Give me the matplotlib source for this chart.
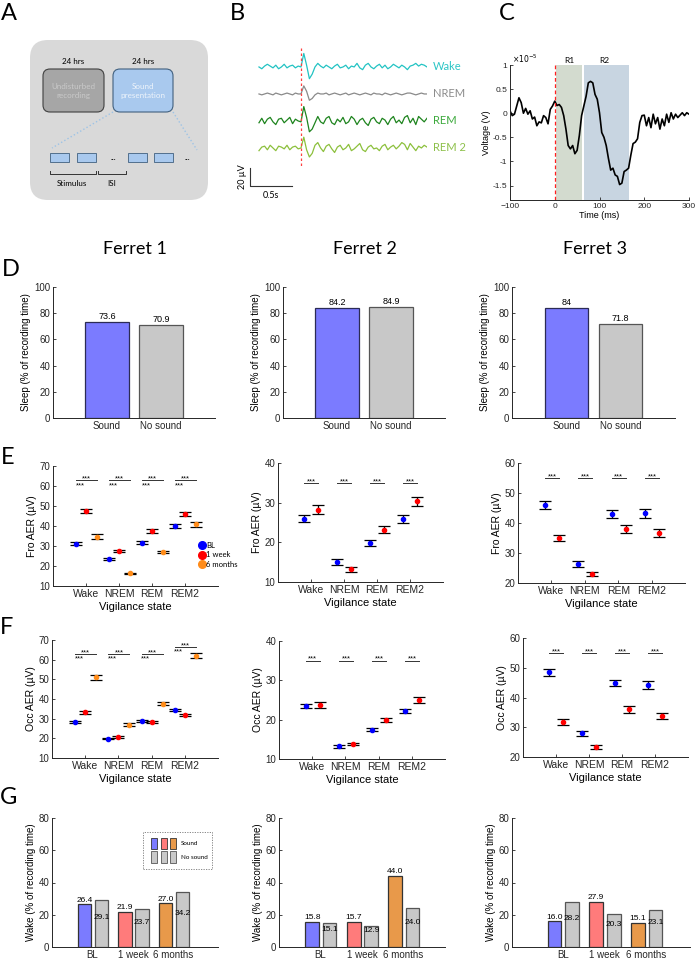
import numpy as np
import matplotlib
matplotlib.use('Agg')
import matplotlib.pyplot as plt
from matplotlib.patches import FancyBboxPatch, Rectangle
from matplotlib.lines import Line2D

plt.rcParams['font.family'] = ['Liberation Sans', 'DejaVu Sans']
CAL = ['Lato', 'DejaVu Sans']

# ------------------------- data -------------------------
states = ['Wake', 'NREM', 'REM', 'REM2']
d_conditions = ['Sound', 'No sound']
d_f1 = [73.6, 70.9]
d_f2 = [84.2, 84.9]
d_f3 = [84, 71.8]

# Frontal AER (uV)
fro_f1_bl = [31.2, 23.5, 31.7, 40.0]; fro_f1_bl_err = [0.8, 0.4, 0.6, 0.8]
fro_f1_1w = [47.5, 27.5, 37.5, 46.0]; fro_f1_1w_err = [1.0, 0.4, 0.8, 1.0]
fro_f1_6m = [34.7, 16.3, 26.8, 40.8]; fro_f1_6m_err = [1.1, 0.3, 0.5, 1.3]
fro_f1_sig_hi = [63, 63, 63, 63]
fro_f1_sig_lo = [61, 61, 61, 61]

fro_f2_bl = [26.0, 15.1, 19.8, 25.8]; fro_f2_bl_err = [1.0, 0.7, 0.8, 1.0]
fro_f2_1w = [28.2, 13.2, 23.2, 30.3]; fro_f2_1w_err = [1.1, 0.6, 0.9, 1.2]
fro_f2_sig = [35, 35, 35, 35]

fro_f3_bl = [46.0, 26.4, 43.1, 43.2]; fro_f3_bl_err = [1.4, 0.9, 1.3, 1.4]
fro_f3_1w = [35.1, 23.0, 38.1, 36.6]; fro_f3_1w_err = [1.0, 0.8, 1.3, 1.4]
fro_f3_sig = [55, 55, 55, 55]

# Occipital AER (uV)
occ_f1_bl = [28.5, 19.8, 29.0, 34.5]; occ_f1_bl_err = [0.5, 0.3, 0.5, 0.5]
occ_f1_1w = [33.2, 20.8, 28.5, 31.8]; occ_f1_1w_err = [0.6, 0.4, 0.5, 0.5]
occ_f1_6m = [51.0, 27.0, 37.5, 62.0]; occ_f1_6m_err = [1.3, 0.6, 0.8, 1.4]
occ_f1_sig_hi = [63, 63, 63, 66.5]
occ_f1_sig_lo = [61, 61, 61, 64.5]

occ_f2_bl = [23.5, 13.2, 17.4, 22.3]; occ_f2_bl_err = [0.6, 0.3, 0.4, 0.5]
occ_f2_1w = [23.7, 13.8, 20.0, 25.0]; occ_f2_1w_err = [0.7, 0.3, 0.5, 0.7]
occ_f2_sig = [35, 35, 35, 35]

occ_f3_bl = [48.5, 28.0, 44.8, 44.3]; occ_f3_bl_err = [1.2, 0.8, 1.1, 1.3]
occ_f3_1w = [31.8, 23.3, 36.0, 33.7]; occ_f3_1w_err = [1.0, 0.6, 1.3, 1.0]
occ_f3_sig = [55, 55, 55, 55]

# Wake % (G)
g_groups = ['BL', '1 week', '6 months']
g_f1_sound = [26.4, 21.9, 27.0]; g_f1_nosound = [29.1, 23.7, 34.2]
g_f2_sound = [15.8, 15.7, 44.0]; g_f2_nosound = [15.1, 12.9, 24.0]
g_f3_sound = [16.0, 27.9, 15.1]; g_f3_nosound = [28.2, 20.3, 23.1]

# Panel C average AER (x1e-5 V), 5 ms steps from -100 to 300 ms
c_time = list(range(-100, 305, 5))
c_volt = [0.05, -0.05, -0.02, 0.15, 0.32, 0.22, 0.0, 0.1, -0.02, 0.05, -0.12, -0.08,
          -0.26, -0.18, -0.2, -0.05, -0.09, -0.22, 0.08, 0.15, 0.25,
          0.16, 0.18, 0.12, -0.05, -0.33, -0.67, -0.74, -0.67, -0.84, -0.77, -0.46,
          -0.05, 0.15, 0.35, 0.63, 0.66, 0.63, 0.39, 0.29, 0.01,
          -0.4, -0.5, -0.67, -0.94, -1.18, -1.14, -1.28, -1.31, -1.48, -1.45, -1.21,
          -1.18, -1.14, -0.87, -0.63, -0.6, -0.53, -0.19, -0.05, -0.04,
          -0.26, -0.09, -0.3, -0.02, -0.22, -0.09, -0.33, -0.12, -0.26, -0.02, -0.19,
          0.01, -0.12, -0.02, -0.09, -0.04, 0.01, -0.05, 0.01, -0.02]
c_r1 = [2, 62]
c_r2 = [65, 166]

# Panel B example traces (uV), 61 samples from -0.5 s to 1.5 s
b_wake = [0, -2, 1, 3, 1, -1, 2, -2, 0, 3, -1, 1, 2, -1, 1,
          0, 15, 2, -13, -8, 0, 4, 1,
          -1, 2, 0, -2, 1, 3, -1, 0, 2, -2, 1, 0, 4, -1, -3, 2, 4, 0, -2, 1,
          3, -1, 2, -2, 0, 3, 1, -1, 2, 0, -3, 1, 2, 4, 1, 3, 2, 0]
b_nrem = [0, -1, 0, 1, 0, -1, 1, 0, -1, 0, 1, 0, -1, 1, 0,
          0, 9, 3, -7, -5, -1, 1, 0,
          0, 1, -1, 0, 1, 0, -1, 0, 1, -1, 0, 1, 0, -1, 0, 1, 0, -1, 1, 0,
          0, -1, 1, 0, -1, 0, 1, 0, -1, 0, 1, 1, 0, -1, 0, 1, 0, 0]
b_rem = [-2, 3, -3, 2, 4, -1, -4, 2, 3, -2, 1, 4, -3, 2, 0,
         -1, 16, 4, -12, -9, -2, 5, -1,
         -3, 3, 5, -2, -4, 2, -1, 4, -3, -1, 5, 2, -4, 1, 3, -2, -5, 2, 4, -1,
         -3, 3, 1, -4, 2, 5, -2, 1, -3, 4, 6, -2, 3, -4, 5, 2, -1, 3]
b_rem2 = [-3, 1, 2, -2, 3, 0, -3, 2, 1, -1, 3, -2, 1, 2, -1,
          0, 12, -2, -10, -6, 3, 6, 0,
          -4, 2, 4, -1, -5, 1, 3, -2, 0, 4, -3, -1, 2, 5, -2, -4, 1, 3, -1, 0,
          -3, 2, 4, -2, 1, 3, -1, 2, 6, 4, -2, 5, 1, -3, 2, 0, 3, 1]
b_labels = ['Wake', 'NREM', 'REM', 'REM 2']

# ------------------------- style -------------------------
C_BL, C_1W, C_6M = '#0000FF', '#FF0000', '#FF8C1A'
C_SOUND = '#7B7BFF'
C_NOSOUND = '#C8C8C8'
G_COLORS = ['#7B7BFF', '#FF7B7B', '#E8994A']

W, H = 696, 960
fig = plt.figure(figsize=(6.96, 9.6), dpi=100)


def axpx(l, t, r, b):
    return fig.add_axes([l / W, 1 - b / H, (r - l) / W, (b - t) / H])


ov = fig.add_axes([0, 0, 1, 1])
ov.set_xlim(0, W)
ov.set_ylim(H, 0)
ov.axis('off')
ov.patch.set_alpha(0)


def matlab_axes(ax):
    for s in ['top', 'right']:
        ax.spines[s].set_visible(False)
    for s in ['left', 'bottom']:
        ax.spines[s].set_linewidth(0.7)
        ax.spines[s].set_color('#262626')
    ax.tick_params(direction='in', length=2.5, width=0.6, labelsize=7, colors='#262626', pad=2)


# ------------------------- panel letters & titles -------------------------
for lab, x, y in [('A', 9, 14), ('B', 237, 13), ('C', 507, 14), ('D', 11, 270),
                  ('E', 8, 457), ('F', 7, 627), ('G', 9, 797)]:
    ov.text(x, y, lab, fontsize=17, family=CAL, ha='center', va='center')
for lab, x in [('Ferret 1', 135), ('Ferret 2', 365), ('Ferret 3', 595)]:
    ov.text(x, 249, lab, fontsize=13, family=CAL, ha='center', va='center')

# ------------------------- panel A (schematic) -------------------------
ov.add_patch(FancyBboxPatch((30, 40), 178, 160, boxstyle='round,pad=0,rounding_size=18',
                            fc='#D9D9D9', ec='none'))
ov.add_patch(FancyBboxPatch((43, 69), 61, 43, boxstyle='round,pad=0,rounding_size=7',
                            fc='#A6A6A6', ec='#404040', lw=0.8))
ov.add_patch(FancyBboxPatch((113, 69), 60, 43, boxstyle='round,pad=0,rounding_size=7',
                            fc='#A9C9EE', ec='#41607F', lw=0.8))
ov.text(73.5, 91, 'Undisturbed\nrecording', fontsize=5.8, family=CAL, color='#C9C9C9',
        ha='center', va='center', linespacing=1.4)
ov.text(143, 91, 'Sound\npresentation', fontsize=5.8, family=CAL, color='#EEF4FB',
        ha='center', va='center', linespacing=1.4)
ov.text(73.5, 62, '24 hrs', fontsize=5.8, family=CAL, ha='center', va='center')
ov.text(143, 62, '24 hrs', fontsize=5.8, family=CAL, ha='center', va='center')
ov.plot([113, 52], [112, 148], ls=':', color='#9DC3E6', lw=1)
ov.plot([173, 197], [112, 150], ls=':', color='#9DC3E6', lw=1)
for x0 in [50, 77, 128, 154]:
    ov.add_patch(Rectangle((x0, 153), 19, 9, fc='#A9C9EE', ec='#41607F', lw=0.6))
ov.text(113, 158, '...', fontsize=5.8, family=CAL, ha='center', va='center')
ov.text(187, 158, '...', fontsize=5.8, family=CAL, ha='center', va='center')
ov.plot([50, 50, 96, 96], [171, 174, 174, 171], color='#333333', lw=0.7)
ov.plot([98, 98, 126, 126], [171, 174, 174, 171], color='#333333', lw=0.7)
ov.text(72, 184, 'Stimulus', fontsize=5.8, family=CAL, ha='center', va='center')
ov.text(112, 184, 'ISI', fontsize=5.8, family=CAL, ha='center', va='center')

# ------------------------- panel B (traces) -------------------------
axB = axpx(240, 45, 427, 200)
axB.set_xlim(-0.726, 1.5)
axB.set_ylim(-147.8, 24.4)
axB.axis('off')
tb = np.linspace(-0.5, 1.5, len(b_wake))
b_traces = [b_wake, b_nrem, b_rem, b_rem2]
b_colors = ['#22C3C3', '#8A8A8A', '#1E841E', '#8CC03C']
b_textc = ['#2CC6C6', '#8C8C8C', '#3DAA3D', '#8DC04A']
for i, (tr, c) in enumerate(zip(b_traces, b_colors)):
    off = -30 * i
    axB.plot(tb, np.array(tr) + off, color=c, lw=0.9)
    axB.text(1.57, off, b_labels[i], color=b_textc[i], fontsize=8, family=CAL,
             va='center', ha='left', clip_on=False)
axB.plot([0, 0], [21, -112], ls='--', color='#FF4040', lw=0.9, dashes=(2, 2))
axB.plot([-0.607, -0.607, -0.107], [-112.3, -132.3, -132.3], color='#333333', lw=0.8)
axB.text(-0.70, -122, '20 µV', rotation=90, fontsize=6.5, family=CAL, ha='center', va='center')
axB.text(-0.357, -143, '0.5s', fontsize=6.5, family=CAL, ha='center', va='center')

# ------------------------- panel C (average) -------------------------
axC = axpx(510, 65, 689, 200)
matlab_axes(axC)
axC.tick_params(labelsize=6)
axC.set_xlim(-100, 300)
axC.set_ylim(-1.8, 1)
axC.axvspan(c_r1[0], c_r1[1], ymin=0, ymax=1, color='#D3DBCF', lw=0)
axC.axvspan(c_r2[0], c_r2[1], ymin=0, ymax=1, color='#C8D5E1', lw=0)
axC.plot(c_time, c_volt, color='black', lw=1.2)
axC.axvline(0, ls='--', color='#FF2020', lw=0.9, dashes=(3, 2))
axC.set_xticks([-100, 0, 100, 200, 300])
axC.set_yticks([-1.5, -1, -0.5, 0, 0.5, 1])
axC.set_yticklabels(['-1.5', '-1', '-0.5', '0', '0.5', '1'])
axC.set_xlabel('Time (ms)', fontsize=6.5, labelpad=1)
axC.set_ylabel('Voltage (V)', fontsize=6.5, labelpad=1)
axC.text(np.mean(c_r1), 1.03, 'R1', fontsize=6, ha='center', va='bottom', family=CAL)
axC.text(np.mean(c_r2) - 5, 1.03, 'R2', fontsize=6, ha='center', va='bottom', family=CAL)
axC.text(0.01, 1.0, r'$\times10^{-5}$', transform=axC.transAxes, fontsize=5.5,
         ha='left', va='bottom')

# ------------------------- panel D -------------------------
d_boxes = [(53, 287, 215, 418), (283, 287, 445, 418), (512, 287, 675, 418)]
for box, vals in zip(d_boxes, [d_f1, d_f2, d_f3]):
    ax = axpx(*box)
    matlab_axes(ax)
    xs = np.arange(1, len(vals) + 1)
    ax.bar(xs, vals, width=0.8, color=[C_SOUND, C_NOSOUND], edgecolor=['#2B2B55', '#555555'],
           lw=0.9)
    for x, v in zip(xs, vals):
        ax.text(x, v + 0.5, f'{v:g}', ha='center', va='bottom', fontsize=6.5)
    ax.set_xlim(0, 3)
    ax.set_ylim(0, 100)
    ax.set_xticks(xs)
    ax.set_xticklabels(d_conditions)
    ax.set_yticks(range(0, 101, 20))
    ax.tick_params(axis='x', length=0)
    ax.set_ylabel('Sleep (% of recording time)', fontsize=7, labelpad=2)


# ------------------------- panels E/F -------------------------
def aer_panel(box, groups, offsets, ylim, ylabel, sig_hi, sig_lo=None, legend=False):
    ax = axpx(*box)
    matlab_axes(ax)
    xs = np.arange(1, len(states) + 1)
    for (vals, errs, col), off in zip(groups, offsets):
        ax.errorbar(xs + off, vals, yerr=errs, fmt='o', ms=3, mfc=col, mec=col,
                    ecolor='black', elinewidth=0.9, capsize=4, capthick=0.9, zorder=3)
    for x, yh in zip(xs, sig_hi):
        ax.plot([x + offsets[0], x + offsets[-1]], [yh, yh], color='#333333', lw=0.7)
        ax.annotate('***', xy=(x + 0.02, yh), xytext=(0, -1.6), textcoords='offset points',
                    fontsize=5.5, ha='center', va='bottom')
    if sig_lo is not None:
        for x, yl in zip(xs, sig_lo):
            ax.annotate('***', xy=(x - 0.18, yl), xytext=(0, 1.4), textcoords='offset points',
                        fontsize=5.5, ha='center', va='top')
    ax.set_xlim(0, 5)
    ax.set_ylim(*ylim)
    ax.set_yticks(np.arange(ylim[0], ylim[1] + 1, 10))
    ax.set_xticks(xs)
    ax.set_xticklabels(states, fontsize=7.5)
    ax.set_xlabel('Vigilance state', fontsize=8, labelpad=2)
    ax.set_ylabel(ylabel, fontsize=7.5, labelpad=2)
    if legend:
        handles = [Line2D([], [], ls='', marker='o', ms=5.5, color=c) for c in (C_BL, C_1W, C_6M)]
        ax.legend(handles, ['BL', '1 week', '6 months'], loc='upper left',
                  bbox_to_anchor=(0.855, 0.40), frameon=False,
                  handletextpad=0.1, labelspacing=0.35, borderpad=0, handlelength=1,
                  prop={'family': CAL, 'size': 5.5})
    return ax


three_off = [-0.3, 0.0, 0.33]
two_off = [-0.2, 0.22]
aer_panel((53, 466, 218, 586),
          [(fro_f1_bl, fro_f1_bl_err, C_BL), (fro_f1_1w, fro_f1_1w_err, C_1W),
           (fro_f1_6m, fro_f1_6m_err, C_6M)],
          three_off, (10, 70), 'Fro AER (µV)', fro_f1_sig_hi, fro_f1_sig_lo, legend=True)
aer_panel((278, 463, 443, 582),
          [(fro_f2_bl, fro_f2_bl_err, C_BL), (fro_f2_1w, fro_f2_1w_err, C_1W)],
          two_off, (10, 40), 'Fro AER (µV)', fro_f2_sig)
aer_panel((518, 463, 685, 583),
          [(fro_f3_bl, fro_f3_bl_err, C_BL), (fro_f3_1w, fro_f3_1w_err, C_1W)],
          two_off, (20, 60), 'Fro AER (µV)', fro_f3_sig)
aer_panel((52, 640, 218, 758),
          [(occ_f1_bl, occ_f1_bl_err, C_BL), (occ_f1_1w, occ_f1_1w_err, C_1W),
           (occ_f1_6m, occ_f1_6m_err, C_6M)],
          three_off, (10, 70), 'Occ AER (µV)', occ_f1_sig_hi, occ_f1_sig_lo)
aer_panel((279, 641, 445, 759),
          [(occ_f2_bl, occ_f2_bl_err, C_BL), (occ_f2_1w, occ_f2_1w_err, C_1W)],
          two_off, (10, 40), 'Occ AER (µV)', occ_f2_sig)
aer_panel((523, 638, 688, 757),
          [(occ_f3_bl, occ_f3_bl_err, C_BL), (occ_f3_1w, occ_f3_1w_err, C_1W)],
          two_off, (20, 60), 'Occ AER (µV)', occ_f3_sig)


# ------------------------- panel G -------------------------
def wake_panel(box, sound, nosound, xlim, legend=False):
    ax = axpx(*box)
    matlab_axes(ax)
    xs = np.arange(1, len(g_groups) + 1)
    ax.bar(xs - 0.2, sound, width=0.33, color=G_COLORS, edgecolor='#333333', lw=0.9)
    ax.bar(xs + 0.22, nosound, width=0.33, color=C_NOSOUND, edgecolor='#555555', lw=0.9)
    for x, v in zip(xs, sound):
        ax.text(x - 0.2, v + 0.4, f'{v:.1f}', ha='center', va='bottom', fontsize=6)
    for x, v in zip(xs, nosound):
        ax.text(x + 0.22, v * 0.5 + 3.5, f'{v:.1f}', ha='center', va='center', fontsize=6)
    ax.set_xlim(*xlim)
    ax.set_ylim(0, 80)
    ax.set_yticks(range(0, 81, 20))
    ax.set_xticks(xs)
    ax.set_xticklabels(g_groups)
    ax.tick_params(axis='x', length=0)
    ax.set_ylabel('Wake (% of recording time)', fontsize=7, labelpad=2)
    if legend:
        tr = ax.transAxes
        ax.add_patch(Rectangle((0.548, 0.605), 0.416, 0.286, transform=tr, fill=False,
                               ls=(0, (1.5, 1.5)), ec='#777777', lw=0.6, clip_on=False))
        for xl, c in zip([0.596, 0.657, 0.711], G_COLORS):
            ax.add_patch(Rectangle((xl, 0.76), 0.038, 0.085, transform=tr, fc=c,
                                   ec='#333333', lw=0.6, clip_on=False))
            ax.add_patch(Rectangle((xl, 0.651), 0.038, 0.093, transform=tr, fc=C_NOSOUND,
                                   ec='#555555', lw=0.6, clip_on=False))
        ax.text(0.778, 0.80, 'Sound', transform=tr, fontsize=4.5, family=CAL, va='center')
        ax.text(0.778, 0.695, 'No sound', transform=tr, fontsize=4.5, family=CAL, va='center')
    return ax


wake_panel((52, 818, 218, 947), g_f1_sound, g_f1_nosound, (0, 4.1), legend=True)
wake_panel((279, 818, 445, 947), g_f2_sound, g_f2_nosound, (0, 4.0))
wake_panel((512, 818, 690, 947), g_f3_sound, g_f3_nosound, (-0.22, 4.05))

fig.savefig('out.png', dpi=100)
